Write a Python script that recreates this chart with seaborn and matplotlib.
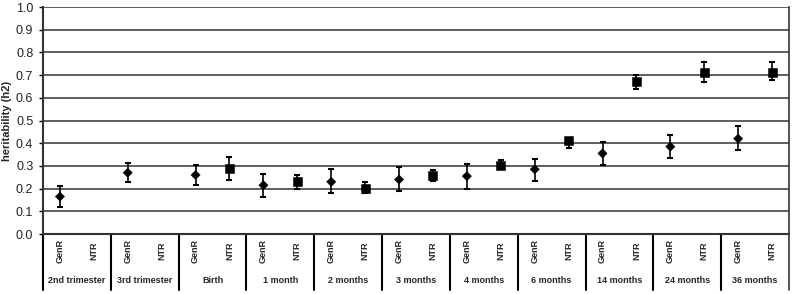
import numpy as np
import pandas as pd
import matplotlib
matplotlib.use('Agg')
import matplotlib.pyplot as plt
import seaborn as sns

# Dados
grupos = ['2nd trimester', '3rd trimester', 'Birth', '1 month', '2 months', '3 months',
          '4 months', '6 months', '14 months', '24 months', '36 months']
estudos = ['GenR', 'NTR']

genr_h2 = [0.165, 0.27, 0.26, 0.215, 0.23, 0.24, 0.255, 0.285, 0.355, 0.385, 0.42]
genr_lo = [0.12, 0.228, 0.218, 0.165, 0.18, 0.19, 0.20, 0.235, 0.305, 0.335, 0.37]
genr_hi = [0.21, 0.315, 0.305, 0.265, 0.285, 0.295, 0.31, 0.33, 0.405, 0.435, 0.475]

ntr_h2 = [np.nan, np.nan, 0.29, 0.23, 0.20, 0.26, 0.30, 0.41, 0.67, 0.71, 0.71]
ntr_lo = [np.nan, np.nan, 0.24, 0.20, 0.18, 0.235, 0.285, 0.38, 0.64, 0.67, 0.68]
ntr_hi = [np.nan, np.nan, 0.34, 0.26, 0.23, 0.28, 0.325, 0.425, 0.70, 0.76, 0.76]

linhas = []
for i, g in enumerate(grupos):
    linhas.append({'grupo': g, 'estudo': 'GenR', 'pos': 2 * i, 'h2': genr_h2[i],
                   'lo': genr_lo[i], 'hi': genr_hi[i]})
    linhas.append({'grupo': g, 'estudo': 'NTR', 'pos': 2 * i + 1, 'h2': ntr_h2[i],
                   'lo': ntr_lo[i], 'hi': ntr_hi[i]})
dados = pd.DataFrame(linhas)

sns.set_style('white')
plt.rcParams['font.family'] = ['Liberation Sans', 'DejaVu Sans']

fig = plt.figure(figsize=(7.93, 2.94), dpi=100)
ax = fig.add_axes([0.0542, 0.204, 0.9408, 0.772])

# Barras de erro
d = dados.dropna()
ax.errorbar(d['pos'], d['h2'], yerr=[d['h2'] - d['lo'], d['hi'] - d['h2']],
            fmt='none', ecolor='black', elinewidth=1.2, capsize=2.3, capthick=1.5, zorder=3)

sns.scatterplot(data=d, x='pos', y='h2', style='estudo', markers={'GenR': 'D', 'NTR': 's'},
                size='estudo', sizes={'GenR': 22, 'NTR': 42},
                color='black', edgecolor='black', legend=False, ax=ax, zorder=4)

ax.set_xlim(-0.5, 2 * len(grupos) - 0.5)
ax.set_ylim(0, 1.0)
ax.set_yticks(np.arange(0, 1.01, 0.1))
ax.set_yticklabels([f'{v:.1f}' for v in np.arange(0, 1.01, 0.1)], fontsize=9, color='#222222')
ax.tick_params(axis='y', length=3, width=1, color='black', pad=4, left=True)
ax.set_xticks([])
ax.set_xlabel('')
ax.set_ylabel('heritability (h2)', fontsize=8, fontweight='bold', labelpad=3)

for v in np.arange(0.1, 1.01, 0.1):
    ax.axhline(v, color='#333333', lw=1.1, zorder=1)

ax.spines['top'].set_visible(False)
ax.spines['left'].set_color('#333333')
ax.spines['left'].set_linewidth(1.5)
ax.spines['right'].set_color('#333333')
ax.spines['right'].set_linewidth(1.2)
ax.spines['bottom'].set_color('#333333')
ax.spines['bottom'].set_linewidth(1.5)

# Rótulos das categorias abaixo do eixo
trans = matplotlib.transforms.blended_transform_factory(ax.transData, ax.transAxes)
for _, r in dados.iterrows():
    ax.text(r['pos'], -0.075, r['estudo'], rotation=90, ha='center', va='center',
            fontsize=6.5, fontweight='bold', transform=trans)
for i, g in enumerate(grupos):
    ax.text(2 * i + 0.5, -0.205, g, ha='center', va='center', fontsize=6.5,
            fontweight='bold', transform=trans)
    ax.plot([2 * i - 0.5, 2 * i - 0.5], [0, -0.245], color='black', lw=1.5,
            transform=trans, clip_on=False)
ax.plot([2 * len(grupos) - 0.5] * 2, [0, -0.245], color='#333333', lw=1.2,
        transform=trans, clip_on=False)

plt.savefig('out.png', dpi=100)
